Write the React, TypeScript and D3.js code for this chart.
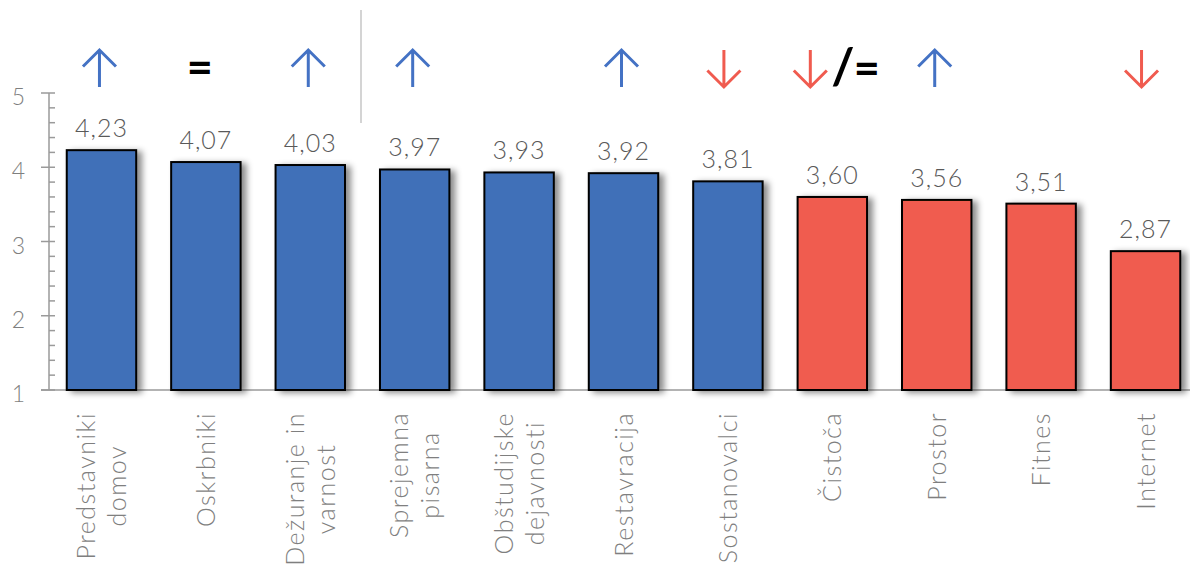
import React, { useEffect, useRef } from "react";
import * as d3 from "d3";

const categories = [
  "Predstavniki\ndomov",
  "Oskrbniki",
  "Dežuranje in\nvarnost",
  "Sprejemna\npisarna",
  "Obštudijske\ndejavnosti",
  "Restavracija",
  "Sostanovalci",
  "Čistoča",
  "Prostor",
  "Fitnes",
  "Internet",
];
const values = [4.23, 4.07, 4.03, 3.97, 3.93, 3.92, 3.81, 3.6, 3.56, 3.51, 2.87];
const groups = ["high", "high", "high", "high", "high", "high", "high", "low", "low", "low", "low"];
const trends = ["up", "eq", "up", "up", "", "up", "down", "down/eq", "up", "", "down"];
const yTicks = [1, 2, 3, 4, 5];

const width = 1190;
const height = 579;
const BLUE = "#4070b8";
const RED = "#f05b4f";
const FONT = "Lato, 'Open Sans', sans-serif";

export default function App() {
  const svgRef = useRef<SVGSVGElement>(null);

  useEffect(() => {
    document.body.style.margin = "0";
    const svg = d3.select(svgRef.current);
    svg.selectAll("*").remove();
    svg.attr("width", width).attr("height", height);

    const defs = svg.append("defs");
    defs.append("filter")
      .attr("id", "shadow")
      .attr("x", "-20%").attr("y", "-20%").attr("width", "150%").attr("height", "140%")
      .append("feDropShadow")
      .attr("dx", 5).attr("dy", 2).attr("stdDeviation", 3)
      .attr("flood-color", "#000").attr("flood-opacity", 0.45);

    const x = d3.scaleBand<string>()
      .domain(categories)
      .range([49, 1198])
      .paddingInner(0.335)
      .paddingOuter(0.17);

    const y = d3.scaleLinear().domain([1, 5]).range([390, 93]);

    // separator
    svg.append("line")
      .attr("x1", 361).attr("x2", 361).attr("y1", 10).attr("y2", 123)
      .attr("stroke", "#d4d4d4").attr("stroke-width", 2);

    // y axis
    const axisG = svg.append("g").attr("stroke", "#9a9a9a").attr("stroke-width", 1.5);
    axisG.append("line").attr("x1", 49).attr("x2", 49).attr("y1", y(5)).attr("y2", y(1));
    axisG.append("line").attr("x1", 41).attr("x2", width).attr("y1", y(1)).attr("y2", y(1));
    d3.range(1, 5.001, 0.2).forEach((t) => {
      const major = Math.abs(t - Math.round(t)) < 1e-6;
      axisG.append("line")
        .attr("x1", major ? 41 : 49).attr("x2", 55)
        .attr("y1", y(t)).attr("y2", y(t));
    });
    svg.append("g").selectAll("text").data(yTicks).enter().append("text")
      .attr("x", 25).attr("y", (d) => y(d) + 12)
      .attr("text-anchor", "end")
      .attr("font-family", FONT).attr("font-weight", 300).attr("font-size", 23)
      .attr("fill", "#7f7f7f")
      .text((d) => d);

    // bars
    svg.append("g").selectAll("rect").data(values).enter().append("rect")
      .attr("x", (_, i) => x(categories[i])!)
      .attr("y", (d) => y(d))
      .attr("width", x.bandwidth())
      .attr("height", (d) => y(1) - y(d))
      .attr("fill", (_, i) => (groups[i] === "high" ? BLUE : RED))
      .attr("stroke", "#000").attr("stroke-width", 2)
      .attr("filter", "url(#shadow)");

    // value labels
    const fmt = d3.format(".2f");
    svg.append("g").selectAll("text").data(values).enter().append("text")
      .attr("x", (_, i) => x(categories[i])! + x.bandwidth() / 2)
      .attr("y", (d) => y(d) - 13)
      .attr("text-anchor", "middle")
      .attr("font-family", FONT).attr("font-weight", 300).attr("font-size", 25)
      .attr("letter-spacing", 1)
      .attr("fill", "#595959")
      .text((d) => fmt(d).replace(".", ","));

    // trend markers
    const up = (cx: number) => `M${cx},87V50M${cx - 16.5},66.5L${cx},50L${cx + 16.5},66.5`;
    const down = (cx: number) => `M${cx},50V87M${cx - 16.5},70.5L${cx},87L${cx + 16.5},70.5`;
    trends.forEach((t, i) => {
      const cx = x(categories[i])! + x.bandwidth() / 2;
      if (t === "up") {
        svg.append("path").attr("d", up(cx - 2)).attr("fill", "none")
          .attr("stroke", "#4472c4").attr("stroke-width", 3);
      } else if (t === "down") {
        svg.append("path").attr("d", down(cx - 4)).attr("fill", "none")
          .attr("stroke", RED).attr("stroke-width", 3);
      } else if (t === "eq") {
        svg.append("text").attr("x", cx - 6).attr("y", 83)
          .attr("text-anchor", "middle")
          .attr("font-family", FONT).attr("font-weight", 700).attr("font-size", 45)
          .attr("fill", "#000").text("=");
      } else if (t === "down/eq") {
        svg.append("path").attr("d", down(cx - 22)).attr("fill", "none")
          .attr("stroke", RED).attr("stroke-width", 3);
        const tx = svg.append("text").attr("x", cx - 1).attr("y", 84)
          .attr("text-anchor", "start")
          .attr("font-family", FONT).attr("font-weight", 700)
          .attr("fill", "#000");
        tx.append("tspan").attr("font-size", 50).text("/");
        tx.append("tspan").attr("font-size", 45).attr("dx", -1).text("=");
      }
    });

    // x labels, rotated, lines centred on each other, top of longest at 412
    const lblG = svg.append("g");
    categories.forEach((c) => {
      const lines = c.split("\n");
      const cx = x(c)! + x.bandwidth() / 2;
      const texts = lines.map((ln, j) =>
        lblG.append("text")
          .attr("font-family", FONT).attr("font-weight", 300).attr("font-size", 25)
          .attr("letter-spacing", 1.5)
          .attr("fill", "#7f7f7f")
          .attr("text-anchor", "middle")
          .attr("data-bx", cx + 9 + (j - (lines.length - 1) / 2) * 31)
          .text(ln)
      );
      const maxLen = d3.max(texts, (t) => (t.node() as SVGTextElement).getComputedTextLength()) || 0;
      texts.forEach((t) => {
        const bx = +t.attr("data-bx");
        t.attr("transform", `translate(${bx},${412 + maxLen / 2}) rotate(-90)`);
      });
    });
  }, []);

  return <svg ref={svgRef} style={{ display: "block" }}></svg>;
}
